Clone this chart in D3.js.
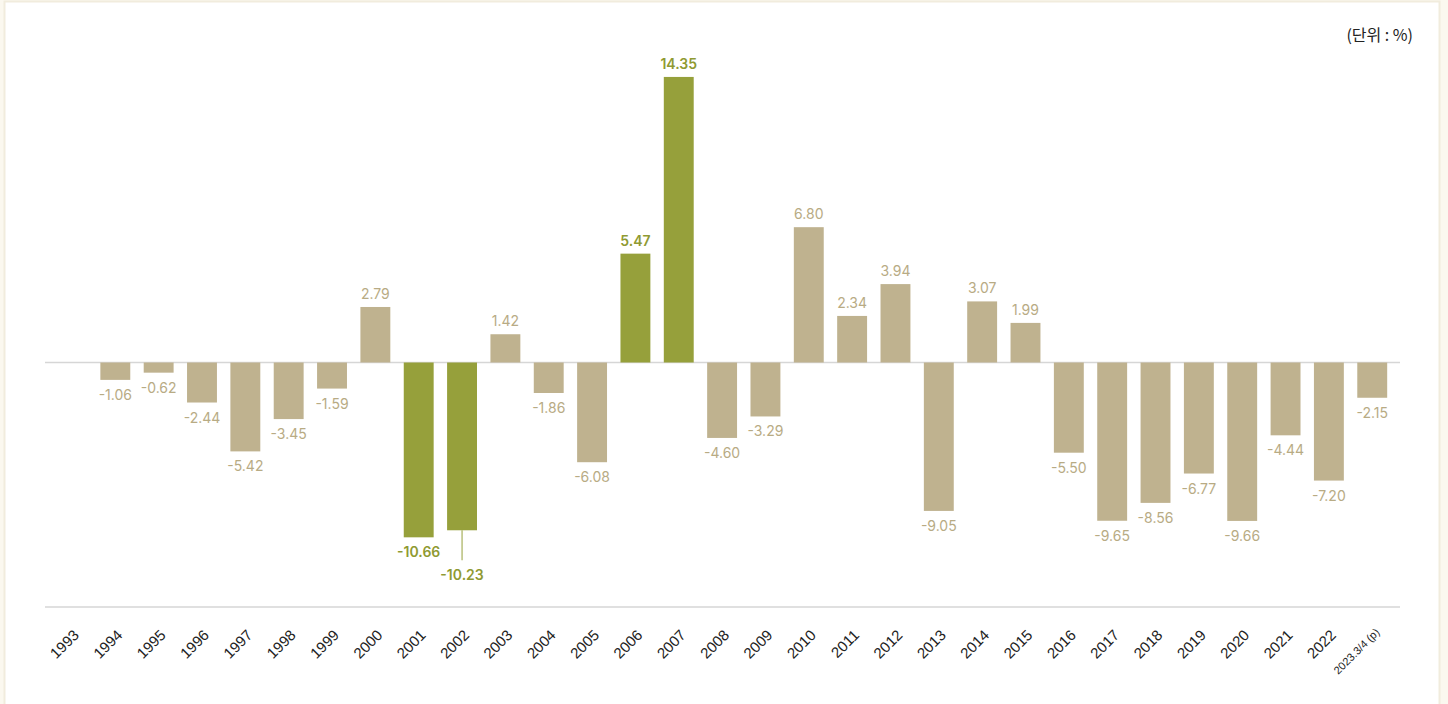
<!DOCTYPE html>
<html>
<head>
<meta charset="utf-8">
<script src="https://cdn.jsdelivr.net/npm/d3@7"></script>
<style>
  html, body { margin: 0; padding: 0; background: #fbf8ef; }
  #chart { position: absolute; left: 0; top: 0; }
</style>
</head>
<body>
<div id="chart"></div>
<script>
// Data
const years = ['1993', '1994', '1995', '1996', '1997', '1998', '1999', '2000', '2001', '2002',
  '2003', '2004', '2005', '2006', '2007', '2008', '2009', '2010', '2011', '2012', '2013',
  '2014', '2015', '2016', '2017', '2018', '2019', '2020', '2021', '2022', '2023.3/4 (p)'];
const values = [null, -1.06, -0.62, -2.44, -5.42, -3.45, -1.59, 2.79, -10.66, -10.23,
  1.42, -1.86, -6.08, 5.47, 14.35, -4.60, -3.29, 6.80, 2.34, 3.94, -9.05,
  3.07, 1.99, -5.50, -9.65, -8.56, -6.77, -9.66, -4.44, -7.20, -2.15];
const highlighted = ['2001', '2002', '2006', '2007'];
const leaderLabels = ['2002'];
const unitLabel = '(단위 : %)';

// Configuration
const CONFIG = {
  width: 1448,
  height: 704,
  x: { start: 50.3, end: 1393.9, padding: 0.31 },
  y: { zero: 362.5, negSlope: 16.4, posSlope: 19.9 },
  axisBottom: 607,
  lineX: [45, 1400],
  colors: { base: '#bfb28f', highlight: '#96a03b', baseText: '#b8ab84', highlightText: '#8f9a32' }
};

const data = years.map((y, i) => ({ year: y, value: values[i] }));
const fmt = d3.formatLocale({ decimal: '.', thousands: ',', grouping: [3], currency: ['', ''], minus: '-' }).format('.2f');

const svg = d3.select('#chart').append('svg')
  .attr('width', CONFIG.width)
  .attr('height', CONFIG.height);

// panel
svg.append('rect')
  .attr('x', 4.5).attr('y', 1.5)
  .attr('width', 1435).attr('height', 710)
  .attr('fill', '#ffffff')
  .attr('stroke', '#f1ecdd')
  .attr('stroke-width', 2);

const xScale = d3.scaleBand()
  .domain(years)
  .range([CONFIG.x.start, CONFIG.x.end])
  .paddingInner(CONFIG.x.padding)
  .paddingOuter(CONFIG.x.padding / 2);

const yScale = d3.scaleLinear()
  .domain([-11, 0, 15])
  .range([CONFIG.y.zero + 11 * CONFIG.y.negSlope, CONFIG.y.zero, CONFIG.y.zero - 15 * CONFIG.y.posSlope]);

const isHi = d => highlighted.includes(d.year);
const bars = data.filter(d => d.value !== null);

// zero line
svg.append('line')
  .attr('x1', CONFIG.lineX[0]).attr('x2', CONFIG.lineX[1])
  .attr('y1', yScale(0)).attr('y2', yScale(0))
  .attr('stroke', '#d6d6d6')
  .attr('stroke-width', 1.5);

// bars
svg.selectAll('.bar')
  .data(bars)
  .join('rect')
  .attr('class', 'bar')
  .attr('x', d => xScale(d.year))
  .attr('width', xScale.bandwidth())
  .attr('y', d => yScale(Math.max(0, d.value)))
  .attr('height', d => Math.abs(yScale(d.value) - yScale(0)))
  .attr('fill', d => isHi(d) ? CONFIG.colors.highlight : CONFIG.colors.base);

// leader lines
svg.selectAll('.leader')
  .data(bars.filter(d => leaderLabels.includes(d.year)))
  .join('line')
  .attr('class', 'leader')
  .attr('x1', d => xScale(d.year) + xScale.bandwidth() / 2)
  .attr('x2', d => xScale(d.year) + xScale.bandwidth() / 2)
  .attr('y1', d => yScale(d.value))
  .attr('y2', d => yScale(d.value) + 30)
  .attr('stroke', CONFIG.colors.highlight)
  .attr('stroke-width', 1);

// value labels
svg.selectAll('.value-label')
  .data(bars)
  .join('text')
  .attr('class', 'value-label')
  .attr('x', d => xScale(d.year) + xScale.bandwidth() / 2)
  .attr('y', d => {
    if (d.value >= 0) return yScale(d.value) - 8;
    return yScale(d.value) + 20 + (leaderLabels.includes(d.year) ? 30 : 0);
  })
  .attr('text-anchor', 'middle')
  .attr('fill', d => isHi(d) ? CONFIG.colors.highlightText : CONFIG.colors.baseText)
  .style('font-family', 'Inter, "Noto Sans", sans-serif')
  .style('font-size', '14px')
  .style('font-weight', d => isHi(d) ? 600 : 400)
  .text(d => fmt(d.value));

// bottom axis line
svg.append('line')
  .attr('x1', CONFIG.lineX[0]).attr('x2', CONFIG.lineX[1])
  .attr('y1', CONFIG.axisBottom).attr('y2', CONFIG.axisBottom)
  .attr('stroke', '#d6d6d6')
  .attr('stroke-width', 1.5);

// x tick labels
svg.selectAll('.x-label')
  .data(years)
  .join('text')
  .attr('class', 'x-label')
  .attr('text-anchor', 'end')
  .attr('transform', (d, i) => `translate(${xScale(d) + xScale.bandwidth() / 2 + 8}, ${i === years.length - 1 ? 633 : 636}) rotate(-45)`)
  .attr('fill', '#222')
  .style('font-family', '"Liberation Sans", Arial, sans-serif')
  .style('font-size', (d, i) => i === years.length - 1 ? '11px' : '15px')
  .text(d => d);

// unit label
svg.append('text')
  .attr('x', 1413)
  .attr('y', 41)
  .attr('text-anchor', 'end')
  .attr('fill', '#222')
  .style('font-family', '"Noto Sans CJK KR", "Noto Sans", sans-serif')
  .style('font-size', '16px')
  .text(unitLabel);
</script>
</body>
</html>
